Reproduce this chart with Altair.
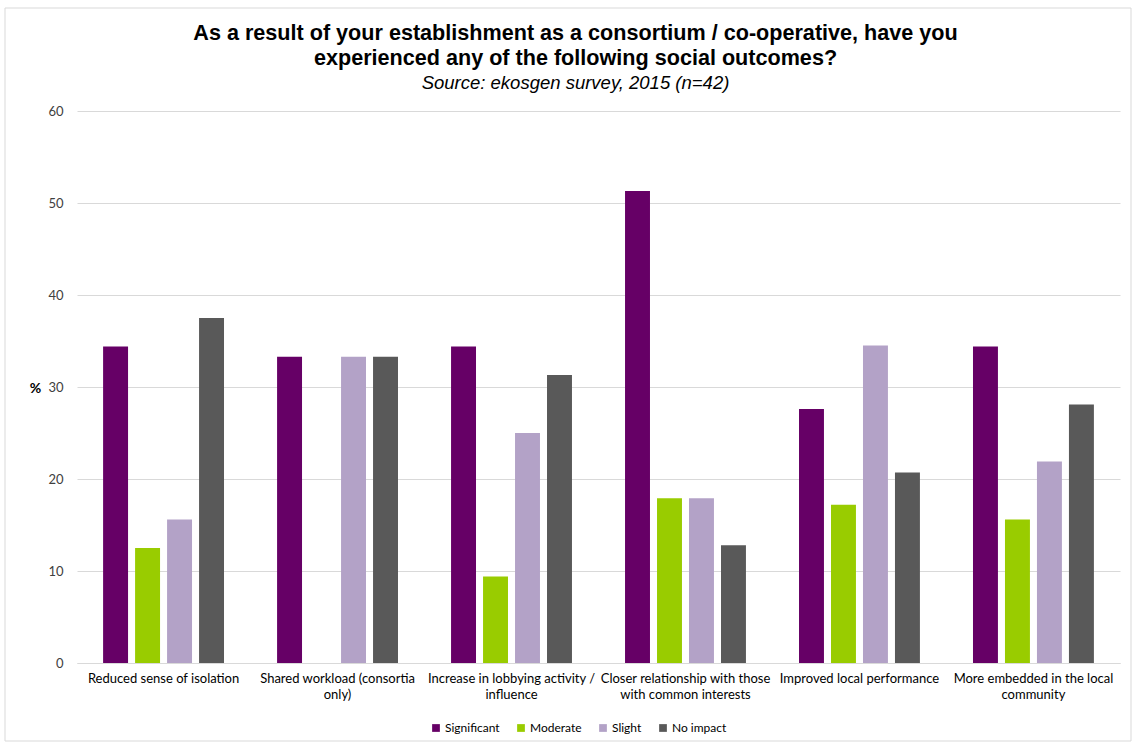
import altair as alt
import pandas as pd

categories = [
    "Reduced sense of isolation",
    "Shared workload (consortia only)",
    "Increase in lobbying activity / influence",
    "Closer relationship with those with common interests",
    "Improved local performance",
    "More embedded in the local community",
]
category_lines = [
    ["Reduced sense of isolation"],
    ["Shared workload (consortia", "only)"],
    ["Increase in lobbying activity /", "influence"],
    ["Closer relationship with those", "with common interests"],
    ["Improved local performance"],
    ["More embedded in the local", "community"],
]
series = ["Significant", "Moderate", "Slight", "No impact"]
colors = ["#660066", "#99CC00", "#B3A2C7", "#595959"]

significant = [34.4, 33.3, 34.4, 51.3, 27.6, 34.4]
moderate = [12.5, 0.0, 9.4, 17.9, 17.2, 15.6]
slight = [15.6, 33.3, 25.0, 17.9, 34.5, 21.9]
no_impact = [37.5, 33.3, 31.3, 12.8, 20.7, 28.1]

values = [significant, moderate, slight, no_impact]
rows = []
for s, vals in zip(series, values):
    for c, v in zip(categories, vals):
        rows.append({"category": c, "series": s, "value": v})
df = pd.DataFrame(rows)

# multi-line label expression
expr = "datum.label"
for c, lines in reversed(list(zip(categories, category_lines))):
    arr = "[" + ",".join("'" + l + "'" for l in lines) + "]"
    expr = f"datum.label == '{c}' ? {arr} : ({expr})"

bars = alt.Chart(df).mark_bar().encode(
    x=alt.X(
        "category:N",
        sort=categories,
        scale=alt.Scale(paddingInner=0.305, paddingOuter=0.15),
        axis=alt.Axis(
            title=None,
            labelAngle=0,
            labelExpr=expr,
            labelFont="Lato",
            labelFontSize=13,
            labelColor="#000000",
            labelLineHeight=16,
            labelPadding=9,
            labelBaseline="top",
            ticks=False,
            domain=True,
            domainColor="#D9D9D9",
            grid=False,
        ),
    ),
    xOffset=alt.XOffset(
        "series:N",
        sort=series,
        scale=alt.Scale(paddingInner=0.22, paddingOuter=0),
    ),
    y=alt.Y(
        "value:Q",
        scale=alt.Scale(domain=[0, 60]),
        axis=alt.Axis(
            title="%",
            titleAngle=0,
            titleX=-42,
            titleY=277,
            titleAlign="center",
            titleBaseline="middle",
            titleFont="Lato",
            titleFontSize=14,
            titleFontWeight="bold",
            titleColor="#000000",
            values=[0, 10, 20, 30, 40, 50, 60],
            labelFont="Lato",
            labelFontSize=13,
            labelColor="#404040",
            labelPadding=14,
            ticks=False,
            domain=False,
            grid=True,
            gridColor="#D9D9D9",
        ),
    ),
    color=alt.Color(
        "series:N",
        sort=series,
        scale=alt.Scale(domain=series, range=colors),
        legend=alt.Legend(
            title=None,
            orient="none",
            direction="horizontal",
            legendX=353,
            legendY=611,
            symbolType="square",
            symbolSize=60,
            symbolStrokeWidth=0,
            labelFont="Lato",
            labelFontSize=12,
            labelColor="#000000",
            labelOffset=3,
            columnPadding=15,
        ),
    ),
)

frame = alt.Chart(pd.DataFrame({"a": [0]})).mark_rect(
    fill=None, stroke="#D9D9D9", strokeWidth=1
).encode(
    x=alt.value(-72), x2=alt.value(1054), y=alt.value(-103), y2=alt.value(630)
)

chart = alt.layer(frame, bars).properties(
    width=1043,
    height=552,
    title=alt.TitleParams(
        text=[
            "As a result of your establishment as a consortium / co-operative, have you",
            "experienced any of the following social outcomes?",
        ],
        subtitle="Source: ekosgen survey, 2015 (n=42)",
        font="Liberation Sans",
        fontSize=21.6,
        fontWeight="bold",
        lineHeight=25,
        color="#000000",
        subtitleFont="Liberation Sans",
        subtitleFontSize=18.5,
        subtitleFontStyle="italic",
        subtitleColor="#000000",
        subtitlePadding=4,
        anchor="middle",
        dx=-23,
        dy=105,
        offset=20,
    ),
    autosize=alt.AutoSizeParams(type="none"),
    padding={"left": 77, "top": 111, "right": 12, "bottom": 81},
).configure_view(stroke=None)

chart.save("out.html", embed_options={"renderer": "svg", "actions": False})
